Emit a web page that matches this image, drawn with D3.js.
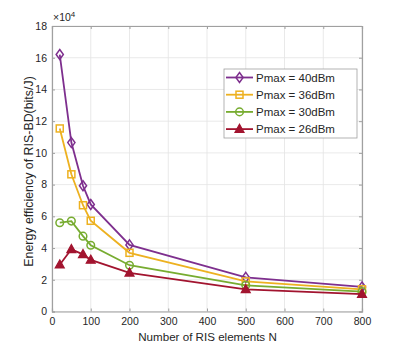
<!DOCTYPE html>
<head>
    <meta charset="utf-8">
    <script src="https://d3js.org/d3.v7.min.js"></script>
    <style>
        body { margin: 0; background: #fff; }
        text { font-family: "Liberation Sans", Arial, sans-serif; fill: #262626; }
    </style>
</head>
<body>
    <svg width="399" height="349"></svg>
    <script>
        // number of RIS elements
        const nValues = [20, 50, 80, 100, 200, 500, 800]
        // energy efficiency, in units of 1e4 bits/J
        const ee40 = [16.2, 10.65, 7.93, 6.75, 4.2, 2.15, 1.55]
        const ee36 = [11.54, 8.65, 6.7, 5.72, 3.7, 1.9, 1.4]
        const ee30 = [5.6, 5.7, 4.75, 4.18, 2.92, 1.65, 1.25]
        const ee26 = [2.95, 3.92, 3.6, 3.25, 2.44, 1.4, 1.1]
        const seriesNames = ["Pmax = 40dBm", "Pmax = 36dBm", "Pmax = 30dBm", "Pmax = 26dBm"]
        const xTicks = [0, 100, 200, 300, 400, 500, 600, 700, 800]
        const yTicks = [0, 2, 4, 6, 8, 10, 12, 14, 16, 18]

        const colors = ["#7E2F8E", "#EDB120", "#77AC30", "#A2142F"]
        const shapes = ["diamond", "square", "circle", "triangle"]
        const allSeries = [ee40, ee36, ee30, ee26]

        const svg = d3.select("svg")
        const pLeft = 52, pRight = 362, pTop = 26, pBottom = 311.5

        const x = d3.scaleLinear().domain([0, 800]).range([pLeft, pRight])
        const y = d3.scaleLinear().domain([0, 18]).range([pBottom, pTop])

        // grid
        svg.append("g").selectAll("line").data(xTicks).enter().append("line")
            .attr("x1", d => x(d)).attr("x2", d => x(d))
            .attr("y1", pTop).attr("y2", pBottom)
            .attr("stroke", "#e3e3e3").attr("stroke-width", 0.8)
        svg.append("g").selectAll("line").data(yTicks).enter().append("line")
            .attr("x1", pLeft).attr("x2", pRight)
            .attr("y1", d => y(d)).attr("y2", d => y(d))
            .attr("stroke", "#e3e3e3").attr("stroke-width", 0.8)

        // axes
        const xAxis = d3.axisBottom(x).tickValues(xTicks).tickSize(-3).tickPadding(6)
        const yAxis = d3.axisLeft(y).tickValues(yTicks).tickSize(-3).tickPadding(5)
        const gx = svg.append("g").attr("transform", `translate(0,${pBottom})`).call(xAxis)
        const gy = svg.append("g").attr("transform", `translate(${pLeft},0)`).call(yAxis)
        const gxt = svg.append("g").attr("transform", `translate(0,${pTop})`)
            .call(d3.axisTop(x).tickValues(xTicks).tickSize(-3).tickFormat(""))
        const gyr = svg.append("g").attr("transform", `translate(${pRight},0)`)
            .call(d3.axisRight(y).tickValues(yTicks).tickSize(-3).tickFormat(""))
        for (const g of [gx, gy, gxt, gyr]) {
            g.selectAll("path.domain").attr("stroke", "#a0a0a0").attr("stroke-width", 1.2)
            g.selectAll(".tick line").attr("stroke", "#a0a0a0")
            g.selectAll(".tick text").style("font-size", "10.5px")
                .style("font-family", "'Liberation Sans', Arial, sans-serif").attr("fill", "#262626")
        }

        // exponent label
        const expo = svg.append("text").attr("x", pLeft + 1).attr("y", pTop - 5)
            .style("font-size", "10.5px")
        expo.append("tspan").text("\u00d710")
        expo.append("tspan").attr("dy", -4).style("font-size", "8px").text("4")

        // axis titles
        svg.append("text").attr("x", (pLeft + pRight) / 2 + 0.5).attr("y", 341)
            .attr("text-anchor", "middle").style("font-size", "11.6px")
            .text("Number of RIS elements N")
        svg.append("text")
            .attr("transform", `translate(33,171.5) rotate(-90)`)
            .attr("text-anchor", "middle").style("font-size", "12.4px")
            .text("Energy efficiency of RIS-BD(bits/J)")

        function drawMarker(g, shape, color, cx, cy) {
            if (shape == "diamond") {
                g.append("path").attr("d", `M${cx},${cy - 5}L${cx + 3.6},${cy}L${cx},${cy + 5}L${cx - 3.6},${cy}Z`)
                    .attr("fill", "none").attr("stroke", color).attr("stroke-width", 1.5)
            } else if (shape == "square") {
                g.append("rect").attr("x", cx - 3.5).attr("y", cy - 3.5).attr("width", 7).attr("height", 7)
                    .attr("fill", "none").attr("stroke", color).attr("stroke-width", 1.5)
            } else if (shape == "circle") {
                g.append("circle").attr("cx", cx).attr("cy", cy).attr("r", 3.8)
                    .attr("fill", "none").attr("stroke", color).attr("stroke-width", 1.5)
            } else {
                g.append("path").attr("d", `M${cx},${cy - 4.8}L${cx + 4.5},${cy + 3.3}L${cx - 4.5},${cy + 3.3}Z`)
                    .attr("fill", color).attr("stroke", color).attr("stroke-width", 1.2)
            }
        }

        const line = d3.line().x((d, i) => x(nValues[i])).y(d => y(d))

        allSeries.forEach((s, k) => {
            const g = svg.append("g")
            g.append("path").attr("d", line(s))
                .attr("fill", "none").attr("stroke", colors[k]).attr("stroke-width", 1.8)
            s.forEach((v, i) => drawMarker(g, shapes[k], colors[k], x(nValues[i]), y(v)))
        })

        // legend
        const lg = svg.append("g")
        lg.append("rect").attr("x", 224).attr("y", 69).attr("width", 133).attr("height", 69)
            .attr("fill", "#fff").attr("stroke", "#a0a0a0").attr("stroke-width", 0.8)
        seriesNames.forEach((name, k) => {
            const ly = 77.5 + k * 17.2
            lg.append("line").attr("x1", 226).attr("x2", 253).attr("y1", ly).attr("y2", ly)
                .attr("stroke", colors[k]).attr("stroke-width", 1.8)
            drawMarker(lg, shapes[k], colors[k], 239.5, ly)
            lg.append("text").attr("x", 256).attr("y", ly + 4).style("font-size", "11.5px").text(name)
        })
    </script>
</body>
